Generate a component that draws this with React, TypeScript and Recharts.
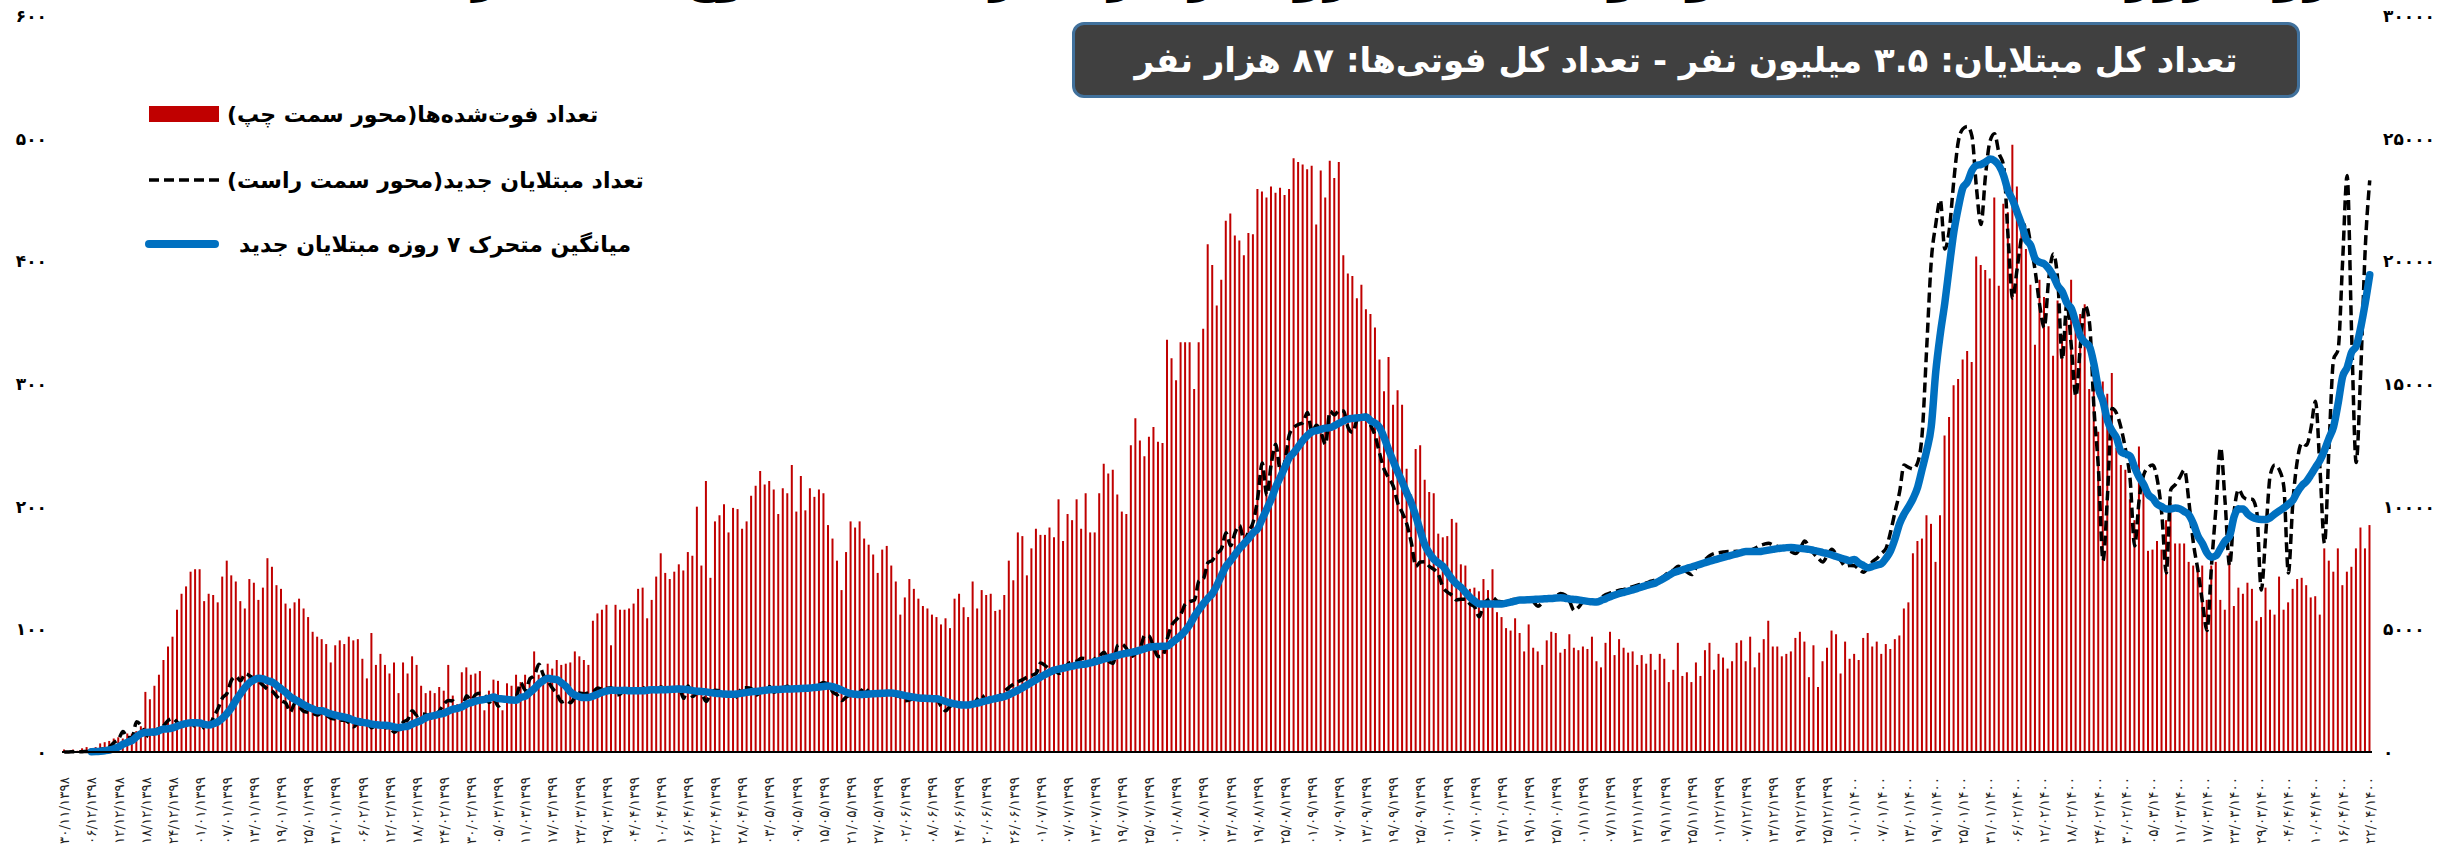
import { Bar, ComposedChart, Line, XAxis, YAxis } from 'recharts'

// Daily deaths, day 0 = 1398/11/30 … day 510 = 1400/04/22 (left axis)
const DEATHS = [
  2, 0, 2, 1, 3, 4, 3, 4, 7, 8, 9, 11, 12, 11, 15, 15, 17, 21,
  49, 43, 54, 63, 75, 86, 94, 116, 129, 135,
  147, 149, 149, 123, 129, 128, 122, 143, 156, 144,
  139, 123, 117, 141, 138, 124, 134, 158, 151, 136,
  133, 121, 117, 122, 125, 117, 110, 98, 94, 92,
  88, 73, 87, 91, 88, 94, 91, 92, 76, 60,
  97, 71, 80, 71, 64, 73, 48, 73, 64, 78,
  71, 54, 48, 50, 48, 53, 50, 71, 46, 39,
  65, 69, 63, 64, 66, 34, 50, 59, 58, 34,
  56, 54, 63, 57, 63, 61, 82, 63, 64, 72,
  68, 75, 71, 72, 73, 82, 78, 75, 71, 107,
  113, 116, 120, 87, 120, 116, 116, 117, 121, 133, 134, 109,
  124, 143, 162, 146, 141, 147, 153, 148, 163, 160,
  200, 152, 221, 142, 188, 193, 202, 179, 199, 198,
  182, 188, 209, 217, 229, 218, 221, 214, 194, 215,
  211, 234, 196, 225, 197, 215, 208, 214, 211, 185,
  174, 156, 132, 163, 188, 183, 188, 174, 169, 161,
  146, 165, 168, 152, 139, 112, 126, 141, 133, 125,
  119, 117, 112, 110, 104, 109, 101, 125, 129, 118,
  110, 139, 117, 132, 128, 129, 115, 116, 128, 156,
  140, 179, 176, 144, 166, 182, 177, 177, 183, 175,
  206, 172, 194, 189, 206, 182, 211, 179, 179, 211,
  235, 227, 230, 210, 196, 194, 250, 272, 254, 241,
  257, 265, 253, 252, 336, 321, 303, 334, 334, 334,
  296, 334, 345, 414, 397, 364, 385, 433, 439, 421,
  417, 405, 423, 422,
  459, 457, 452, 461, 456, 460, 454, 459, 484, 481,
  479, 475, 478, 430, 474, 452, 482, 468, 481, 405,
  390, 388, 370, 381, 361, 357, 346, 320, 294, 322,
  283, 295, 283, 231, 210, 247, 250, 222, 212, 211,
  178, 175, 176, 190, 187, 153, 152, 133, 134, 131,
  141, 132, 149, 114, 110, 101, 99, 109, 97, 82,
  104, 85, 82, 71, 91, 98, 97, 81, 84, 96,
  85, 83, 86, 84, 94, 74, 69, 89, 98, 79,
  92, 85, 81, 82, 71, 79, 72, 80, 67, 80,
  76, 57, 67, 89, 62, 65, 57, 73, 62, 83,
  89, 67, 80, 77, 68, 74, 89, 91, 74, 94,
  69, 81, 92, 107, 86, 86, 78, 80, 82, 93,
  98, 90, 61, 87, 53, 74, 85, 99, 96, 64,
  90, 76,
  80, 75, 93, 97, 86, 90, 80, 88, 84, 92,
  95, 117, 122, 162, 172, 174, 193, 186, 155, 193,
  258, 273, 299, 304, 320, 327, 318, 404, 397, 393,
  386, 452, 380, 447, 440, 495, 461, 426, 410, 381,
  332, 385, 371, 347, 323, 368, 340, 352, 385, 347,
  357, 365, 296, 320, 261, 302, 292, 309, 248, 234,
  230, 206, 189, 249, 217, 164, 165, 172, 165, 189,
  203, 170, 170, 170, 155, 152, 148, 152, 124, 152,
  155, 124, 116, 162, 119, 134, 129, 138, 133, 107,
  110, 134, 116, 112, 143, 116, 122, 133, 141,
  142, 136, 126, 127, 112, 166, 156, 147, 166, 136, 147, 151, 166, 183, 166, 185,
]

// Daily new cases (right axis)
const CASES = [
  2, 3, 13, 10, 15, 18, 34, 44, 106, 143,
  205, 385, 523, 835, 586, 591, 1234, 1076, 743, 595,
  881, 958, 1075, 1289, 1365, 1209, 1053, 1178, 1192, 1046,
  1237, 966, 1028, 1411, 1762, 2206, 2389, 2926, 3076, 2901,
  3186, 3110, 2987, 2875, 2715, 2560, 2483, 2274, 2089, 1997,
  1634, 1972, 1837, 1657, 1617, 1574, 1512, 1606, 1499, 1374,
  1343, 1294, 1297, 1194, 1030, 1168, 1134, 1153, 991, 1112,
  1073, 993, 1006, 802, 976, 1223, 1323, 1680, 1485, 1556,
  1529, 1383, 1481, 1683, 1958, 2102, 2080, 1757, 1806, 2294,
  2111, 2346, 2392, 2311, 2023, 2180, 1869, 2023, 2213, 2199,
  2282, 2819, 2516, 2979, 3117, 3574, 3134, 2886, 2596, 2364,
  2043, 2095, 2011, 2238, 2410, 2369, 2410, 2449, 2612, 2563,
  2596, 2615, 2322, 2368, 2573, 2445, 2531, 2595, 2628, 2489,
  2536, 2549, 2652, 2560, 2613, 2560, 2637, 2186, 2691, 2262,
  2397, 2349, 2060, 2388, 2521, 2500, 2379, 2414, 2166, 2336,
  2625, 2621, 2586, 2316, 2444, 2598, 2667, 2434, 2580, 2612,
  2685, 2549, 2621, 2596, 2502, 2634, 2697, 2751, 2836, 2751,
  2450, 2322, 2097, 2245, 2322, 2385, 2434, 2621, 2444, 2340,
  2264, 2385, 2444, 2450, 2309, 2245, 2089, 2125, 2206, 2245,
  2266, 2184, 2152, 2125, 1861, 1682, 1870, 1922, 1989, 1962,
  1958, 1960, 2160, 2313, 2049, 2125, 2224, 2301, 2475, 2637,
  2762, 2865, 2951, 3049, 3124, 3204, 3629, 3521, 3381, 3362,
  3201, 3290, 3582, 3677, 3700, 3825, 3805, 3640, 3800, 3902,
  4069, 3712, 3606, 4340, 4392, 4206, 3890, 4016, 4205, 4751,
  4721, 4251, 3890, 3920, 4616, 5170, 5391, 5616, 6030, 6134,
  6191, 6968, 7060, 7719, 7820, 8090, 8293, 8932, 8405, 8940,
  9236, 8600, 9000, 9370,
  10343, 11780, 10463, 11737, 12543, 11490, 11823, 12931, 13223, 13352,
  13421, 13843, 13053, 13321, 13030, 12540, 13890, 13740, 13922, 13900,
  13230, 13030, 13540, 13650, 13740, 13321, 12880, 12150, 11510, 11164,
  10830, 10140, 9750, 9280, 8521, 7570, 7740, 7751, 7560, 7443,
  7230, 6710, 6513, 6385, 6200, 6225, 6221, 6030, 5910, 5510,
  6040, 6211, 6290, 6150, 6125, 6030, 6180, 6230, 6222, 6193,
  6290, 6122, 5940, 6091, 6251, 6307, 6352, 6460, 6401, 6143,
  5770, 5906, 6107, 6019, 6110, 6168, 6297, 6412, 6480, 6540,
  6590, 6630, 6680, 6744, 6801, 6850, 6890, 6960, 7010, 7060,
  7190, 7350, 7420, 7570, 7480, 7330, 7230, 7510, 7680, 7840,
  8000, 8090, 8120, 8150, 8170, 8170, 8180, 8140, 8170, 8220,
  8300, 8410, 8470, 8510, 8440, 8380, 8320, 8250, 8170, 8090,
  8300, 8600, 8350, 8100, 7900, 7740, 8010, 8260, 8050, 7800,
  7570, 7600,
  7590, 7450, 7330, 7500, 7760, 7900, 8100, 8300, 8970, 9800,
  10600, 11700, 11600, 11540, 11800, 13000, 16500, 20000, 21510, 22500,
  20500, 21300, 23300, 24900, 25400, 25500, 25100, 23000, 21500, 23500,
  24900, 25200, 24400, 23900, 21000, 18500, 19700, 21000, 21500, 20700,
  19600, 18200, 17300, 19300, 20300, 19200, 16000, 18300, 16500, 14500,
  16600, 18200, 17500, 14000, 11500, 7800, 10500, 14000, 13800, 13200,
  12300, 11100, 8400, 10300, 11300, 11600, 11700, 11100, 9700, 7300,
  10700, 10900, 11200, 11500, 10200, 8500, 7400, 6100, 4950, 7600,
  10000, 12400, 10200, 7600, 9800, 10700, 10400, 10300, 10300, 9800,
  6600, 8900, 11300, 11700, 11500, 10800, 7300, 10200, 11900, 12600,
  12500, 13200, 14300, 11500, 8500, 12500, 16000, 16400, 20000, 23500,
  17000, 11800, 15500, 20500, 23300,
]

// 7-day moving average of new cases (right axis)
const AVG7 = [
  null, null, null, null, null, null,
  14, 20, 34, 53, 81, 134, 206, 320, 398, 467,
  623, 747, 798, 809, 815, 868, 937, 945, 987, 1053,
  1119, 1161, 1194, 1190, 1183, 1126, 1100, 1151, 1235, 1379,
  1571, 1813, 2114, 2382, 2635, 2828, 2939, 3009, 2979, 2905,
  2845, 2715, 2569, 2428, 2250, 2144, 2041, 1923, 1829, 1755,
  1686, 1682, 1615, 1548, 1504, 1457, 1418, 1372, 1290, 1243,
  1209, 1181, 1138, 1112, 1094, 1089, 1066, 1019, 993, 1026,
  1057, 1143, 1214, 1292, 1396, 1454, 1491, 1542, 1582, 1670,
  1745, 1778, 1838, 1954, 2015, 2071, 2112, 2145, 2183, 2237,
  2176, 2163, 2144, 2117, 2113, 2226, 2274, 2433, 2589, 2784,
  2917, 3004, 2972, 2950, 2816, 2670, 2447, 2319, 2251, 2219,
  2225, 2283, 2357, 2436, 2487, 2516, 2510, 2504, 2521, 2497,
  2493, 2493, 2495, 2518, 2542,
  2530, 2540, 2540, 2550, 2560, 2570, 2560, 2540, 2500, 2480,
  2470, 2450, 2420, 2390, 2380, 2360, 2350, 2350, 2370, 2400,
  2430, 2460, 2470, 2490, 2520, 2540, 2550, 2550, 2560, 2570,
  2570, 2580, 2590, 2600, 2610, 2630, 2650, 2670, 2690, 2660,
  2600, 2520, 2440, 2380, 2350, 2340, 2350, 2360, 2370, 2380,
  2390, 2400, 2400, 2380, 2340, 2300, 2260, 2230, 2200, 2190,
  2180, 2175, 2170, 2120, 2060, 2000, 1960, 1930, 1920, 1920,
  1950, 1990, 2040, 2090, 2140, 2180, 2220, 2260, 2340, 2430,
  2520, 2620, 2730, 2840, 2950, 3060, 3160, 3260, 3340, 3380,
  3420, 3460, 3500, 3540, 3570, 3590, 3630, 3680, 3730, 3790,
  3840, 3890, 3940, 3990, 4030, 4060, 4100, 4150, 4210, 4270,
  4290, 4300, 4310, 4320, 4450, 4600, 4750, 4950, 5200, 5520,
  5800, 6050, 6270, 6460, 6800, 7200, 7570, 7800, 8050, 8300,
  8500, 8700, 8940,
  9100, 9500, 9900, 10310, 10800, 11200, 11600, 12000, 12200, 12450,
  12700, 12900, 13050, 13100, 13150, 13200, 13220, 13300, 13400, 13500,
  13570, 13600, 13620, 13640, 13650, 13500, 13400, 13220, 12800, 12300,
  11850, 11400, 11000, 10550, 10140, 9600, 9000, 8430, 8100, 7850,
  7700, 7570, 7300, 7050, 6850, 6710, 6500, 6300, 6150, 6030,
  6030, 6030, 6030, 6030, 6030, 6070, 6110, 6150, 6200, 6200,
  6210, 6220, 6230, 6240, 6250, 6260, 6280, 6290, 6270, 6240,
  6220, 6200, 6170, 6140, 6120, 6110, 6180, 6250, 6330, 6400,
  6460, 6510, 6560, 6610, 6670, 6730, 6790, 6840, 6890, 6990,
  7090, 7200, 7310, 7370, 7430, 7490, 7540, 7600, 7660, 7720,
  7780, 7830, 7880, 7930, 7980, 8030, 8080, 8130, 8170, 8170,
  8170, 8170, 8200, 8230, 8260, 8290, 8310, 8330, 8340, 8320,
  8300, 8280, 8260, 8220, 8180, 8130, 8090, 8030, 7970, 7910,
  7850, 7800,
  7850, 7700, 7600, 7510, 7560, 7620, 7680, 7900, 8200, 8700,
  9310, 9700, 10000, 10340, 10800, 11540, 12300, 13260, 15500, 17040,
  18300, 19790, 21200, 22200, 23000, 23230, 23700, 23910, 23950, 24050,
  24170, 24100, 23900, 23500, 22880, 22500, 22000, 21500, 20900, 20650,
  20100, 19960, 19900, 19700, 19400, 19000, 18760, 18300, 18070, 17500,
  16950, 16700, 16530, 15800, 14800, 14290, 13500, 13090, 12800, 12230,
  12150, 12060, 11600, 11200, 10900, 10500, 10340, 10100, 10000, 9910,
  9910, 9950, 9910, 9800, 9660, 9300, 8800, 8500, 8110, 7940,
  8000, 8300, 8600, 8800, 9600, 9910, 9910, 9700, 9570, 9500,
  9480, 9480, 9550, 9700, 9830, 9950, 10100, 10260, 10600, 10860,
  11030, 11300, 11600, 11890, 12300, 12800, 13260, 14200, 15300, 15670,
  16300, 16530, 17300, 18300, 19450,
]

// One date label every 6 days
const TICK_LABELS = [
  '30/11/1398', '06/12/1398', '12/12/1398', '18/12/1398', '24/12/1398',
  '01/01/1399', '07/01/1399', '13/01/1399', '19/01/1399', '25/01/1399', '31/01/1399',
  '06/02/1399', '12/02/1399', '18/02/1399', '24/02/1399', '30/02/1399',
  '05/03/1399', '11/03/1399', '17/03/1399', '23/03/1399', '29/03/1399',
  '04/04/1399', '10/04/1399', '16/04/1399', '22/04/1399', '28/04/1399',
  '03/05/1399', '09/05/1399', '15/05/1399', '21/05/1399', '27/05/1399',
  '02/06/1399', '08/06/1399', '14/06/1399', '20/06/1399', '26/06/1399',
  '01/07/1399', '07/07/1399', '13/07/1399', '19/07/1399', '25/07/1399',
  '01/08/1399', '07/08/1399', '13/08/1399', '19/08/1399', '25/08/1399',
  '01/09/1399', '07/09/1399', '13/09/1399', '19/09/1399', '25/09/1399',
  '01/10/1399', '07/10/1399', '13/10/1399', '19/10/1399', '25/10/1399',
  '01/11/1399', '07/11/1399', '13/11/1399', '19/11/1399', '25/11/1399',
  '01/12/1399', '07/12/1399', '13/12/1399', '19/12/1399', '25/12/1399',
  '01/01/1400', '07/01/1400', '13/01/1400', '19/01/1400', '25/01/1400', '31/01/1400',
  '06/02/1400', '12/02/1400', '18/02/1400', '24/02/1400', '30/02/1400',
  '05/03/1400', '11/03/1400', '17/03/1400', '23/03/1400', '29/03/1400',
  '04/04/1400', '10/04/1400', '16/04/1400', '22/04/1400',
]

const LEFT_TICKS = [0, 100, 200, 300, 400, 500, 600]
const RIGHT_TICKS = [0, 5000, 10000, 15000, 20000, 25000, 30000]

const TITLE = 'روند روزانه تعداد مبتلایان و فوت‌شدگان کرونا در ایران از ابتدای شیوع تا ۲۲ تیر ۱۴۰۰'
const SUMMARY = 'تعداد کل مبتلایان: ۳.۵ میلیون نفر - تعداد کل فوتی‌ها: ۸۷ هزار نفر'
const LEGEND_DEATHS = 'تعداد فوت‌شده‌ها(محور سمت چپ)'
const LEGEND_CASES = 'تعداد مبتلایان جدید(محور سمت راست)'
const LEGEND_AVG = 'میانگین متحرک ۷ روزه مبتلایان جدید'

const FONT = '"DejaVu Sans", sans-serif'
const RED = '#C00000'
const BLUE = '#0070C0'

const FA_DIGITS = '۰۱۲۳۴۵۶۷۸۹'
function toFa(value: string | number) {
  return String(value).replace(/\d/g, (d) => FA_DIGITS[Number(d)])
}

const data = DEATHS.map((deaths, i) => ({
  day: i,
  deaths,
  cases: CASES[i],
  avg7: AVG7[i],
}))

function DateTick({ x, y, payload }: any) {
  const label = TICK_LABELS[Math.round(payload.value / 6)] ?? ''
  const ty = y + 25
  return (
    <text
      x={x}
      y={ty}
      transform={`rotate(-90 ${x} ${ty})`}
      textAnchor="end"
      dominantBaseline="central"
      fontSize={13.5}
      fontFamily={FONT}
      fill="#222"
    >
      {toFa(label)}
    </text>
  )
}

const legendText: React.CSSProperties = {
  direction: 'rtl',
  fontSize: 22,
  fontWeight: 700,
  color: '#000',
  whiteSpace: 'nowrap',
}

function ChartLegend() {
  return (
    <div style={{ position: 'absolute', left: 145, top: 96, fontFamily: FONT }}>
      <div style={{ display: 'flex', alignItems: 'center', height: 36 }}>
        <div style={{ width: 70, height: 16, background: RED, marginLeft: 4, marginRight: 8 }} />
        <span style={legendText}>{LEGEND_DEATHS}</span>
      </div>
      <div style={{ display: 'flex', alignItems: 'center', height: 36, marginTop: 30 }}>
        <svg width={72} height={10} style={{ marginLeft: 4, marginRight: 6 }}>
          <line x1={0} y1={5} x2={72} y2={5} stroke="#000" strokeWidth={3.5} strokeDasharray="10 5" />
        </svg>
        <span style={legendText}>{LEGEND_CASES}</span>
      </div>
      <div style={{ display: 'flex', alignItems: 'center', height: 36, marginTop: 28 }}>
        <svg width={74} height={12} style={{ marginRight: 20 }}>
          <line x1={4} y1={6} x2={70} y2={6} stroke={BLUE} strokeWidth={8} strokeLinecap="round" />
        </svg>
        <span style={legendText}>{LEGEND_AVG}</span>
      </div>
    </div>
  )
}

export default function App() {
  return (
    <div
      style={{
        position: 'absolute',
        left: 0,
        top: 0,
        width: 2453,
        height: 847,
        overflow: 'hidden',
        background: '#fff',
        fontFamily: FONT,
      }}
    >
      <ComposedChart
        width={2453}
        height={847}
        data={data}
        margin={{ top: 16, right: 0, bottom: 0, left: 0 }}
        barCategoryGap={0}
      >
        <XAxis
          dataKey="day"
          interval={5}
          tickLine={false}
          tickSize={0}
          tickMargin={0}
          height={95}
          axisLine={{ stroke: '#000', strokeWidth: 2 }}
          tick={<DateTick />}
        />
        <YAxis
          yAxisId="left"
          domain={[0, 600]}
          ticks={LEFT_TICKS}
          width={62}
          axisLine={false}
          tickLine={false}
          tickSize={0}
          tickMargin={15}
          tickFormatter={toFa}
          tick={{ fontSize: 17, fontWeight: 700, fill: '#000', fontFamily: FONT }}
        />
        <YAxis
          yAxisId="right"
          orientation="right"
          domain={[0, 30000]}
          ticks={RIGHT_TICKS}
          width={81}
          axisLine={false}
          tickLine={false}
          tickSize={0}
          tickMargin={11}
          tickFormatter={toFa}
          tick={{ fontSize: 17, fontWeight: 700, fill: '#000', fontFamily: FONT }}
        />
        <Bar yAxisId="left" dataKey="deaths" fill={RED} barSize={2} isAnimationActive={false} />
        <Line
          yAxisId="right"
          dataKey="cases"
          type="monotone"
          stroke="#000"
          strokeWidth={3.5}
          strokeDasharray="10 5"
          dot={false}
          activeDot={false}
          isAnimationActive={false}
        />
        <Line
          yAxisId="right"
          dataKey="avg7"
          type="monotone"
          stroke={BLUE}
          strokeWidth={7.5}
          strokeLinecap="round"
          strokeLinejoin="round"
          dot={false}
          activeDot={false}
          isAnimationActive={false}
        />
      </ComposedChart>

      {/* the title sits mostly above the top edge, as in the source image */}
      <div
        style={{
          position: 'absolute',
          left: 300,
          width: 2070,
          top: -50,
          textAlign: 'center',
          direction: 'rtl',
          fontSize: 48,
          lineHeight: '48px',
          fontWeight: 700,
          color: '#000',
          whiteSpace: 'nowrap',
        }}
      >
        {TITLE}
      </div>

      <div
        style={{
          position: 'absolute',
          left: 1072,
          top: 22,
          width: 1228,
          height: 76,
          boxSizing: 'border-box',
          background: '#404040',
          border: '3px solid #41719C',
          borderRadius: 12,
          display: 'flex',
          alignItems: 'center',
          justifyContent: 'center',
          direction: 'rtl',
          color: '#fff',
          fontSize: 34,
          fontWeight: 700,
          whiteSpace: 'nowrap',
        }}
      >
        {SUMMARY}
      </div>

      <ChartLegend />
    </div>
  )
}
